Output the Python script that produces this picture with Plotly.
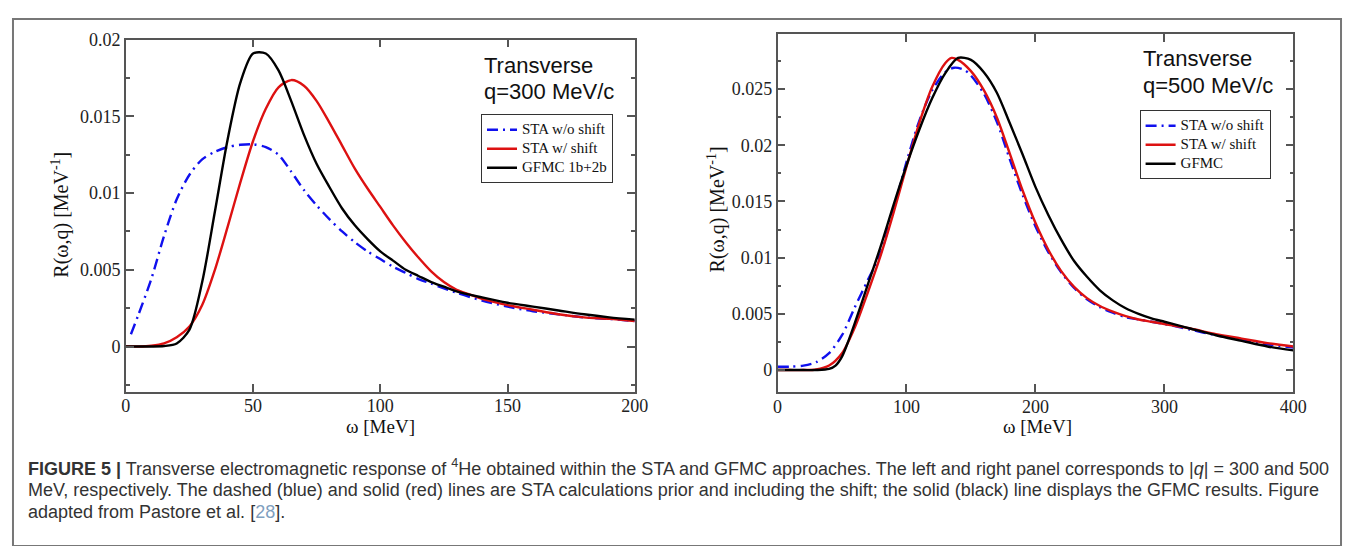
import plotly.graph_objects as go

# ---------------- data: left panel (q = 300 MeV/c) ----------------
w_left_gfmc = [0, 5, 10, 15, 20, 25, 30, 35, 40, 45, 50, 55, 60, 65, 70, 75, 80, 85, 90, 95, 100, 105, 110, 115, 120, 125, 130, 140, 150, 160, 170, 180, 190, 200]
r_left_gfmc = [0, 0, 0, 0.00003, 0.0002, 0.0011, 0.0042, 0.0088, 0.0135, 0.0172, 0.0191, 0.0191, 0.0180, 0.0160, 0.0138, 0.0119, 0.0104, 0.0090, 0.0079, 0.0070, 0.0062, 0.0056, 0.0050, 0.0046, 0.0042, 0.0039, 0.0036, 0.0032, 0.00285, 0.0026, 0.00235, 0.0021, 0.0019, 0.00175]

w_left_shift = [0, 5, 10, 15, 20, 25, 30, 35, 40, 45, 50, 55, 60, 65, 70, 75, 80, 85, 90, 95, 100, 105, 110, 115, 120, 125, 130, 135, 140, 150, 160, 170, 180, 190, 200]
r_left_shift = [0, 0, 0.00005, 0.0002, 0.0006, 0.0013, 0.0027, 0.0050, 0.0078, 0.0107, 0.0134, 0.0155, 0.0169, 0.01737, 0.0170, 0.0160, 0.0146, 0.0131, 0.0116, 0.0103, 0.0091, 0.0079, 0.0068, 0.0058, 0.0049, 0.0042, 0.0037, 0.0034, 0.0031, 0.0027, 0.0024, 0.0021, 0.0019, 0.0018, 0.00166]

w_left_noshift = [2, 5, 10, 15, 20, 25, 30, 35, 40, 45, 50, 55, 60, 65, 70, 75, 80, 85, 90, 95, 100, 105, 110, 115, 120, 130, 140, 150, 160, 170, 180, 190, 200]
r_left_noshift = [0.0008, 0.0021, 0.0044, 0.0072, 0.0096, 0.0112, 0.0122, 0.0127, 0.0130, 0.01315, 0.01318, 0.0130, 0.0125, 0.0114, 0.0102, 0.0092, 0.0083, 0.0075, 0.0068, 0.0062, 0.0057, 0.0052, 0.0048, 0.0044, 0.0041, 0.0035, 0.0030, 0.0026, 0.0023, 0.0021, 0.0019, 0.0018, 0.00166]

# ---------------- data: right panel (q = 500 MeV/c) ----------------
w_right_gfmc = [0, 10, 20, 30, 40, 45, 50, 55, 60, 70, 80, 90, 100, 110, 120, 130, 140, 150, 160, 170, 180, 190, 200, 210, 220, 230, 240, 250, 260, 270, 280, 290, 300, 310, 320, 340, 360, 380, 400]
r_right_gfmc = [0, 0, 0, 0, 0.0001, 0.0004, 0.0012, 0.0026, 0.0042, 0.0076, 0.0110, 0.0147, 0.0182, 0.0214, 0.0242, 0.0264, 0.02777, 0.0276, 0.0265, 0.0247, 0.0220, 0.0192, 0.0163, 0.0138, 0.0116, 0.0097, 0.0083, 0.0071, 0.0062, 0.0055, 0.0050, 0.0046, 0.0043, 0.0040, 0.0037, 0.0031, 0.0026, 0.0021, 0.00175]

w_right_shift = [0, 10, 20, 30, 40, 50, 60, 70, 80, 90, 100, 110, 120, 130, 135, 140, 150, 160, 170, 180, 190, 200, 210, 220, 230, 240, 250, 260, 270, 280, 290, 300, 320, 340, 360, 380, 400]
r_right_shift = [0, 0, 0, 0.00005, 0.0004, 0.0015, 0.0038, 0.0069, 0.0102, 0.0140, 0.0181, 0.0220, 0.0252, 0.0273, 0.02777, 0.0276, 0.0266, 0.0249, 0.0225, 0.0193, 0.0160, 0.0131, 0.0107, 0.0088, 0.0074, 0.0064, 0.0057, 0.0052, 0.0048, 0.0045, 0.0043, 0.0041, 0.0037, 0.0032, 0.0028, 0.0024, 0.0021]

w_right_noshift = [0, 10, 20, 30, 40, 50, 60, 70, 80, 90, 100, 110, 120, 130, 137, 145, 150, 160, 170, 180, 190, 200, 210, 220, 230, 240, 250, 260, 270, 280, 290, 300, 320, 340, 360, 380, 400]
r_right_noshift = [0.0003, 0.0003, 0.0004, 0.0007, 0.0015, 0.0031, 0.0056, 0.0080, 0.0104, 0.0143, 0.0185, 0.0222, 0.0249, 0.0265, 0.0269, 0.0267, 0.0262, 0.0246, 0.0221, 0.0188, 0.0156, 0.0128, 0.0105, 0.0087, 0.0073, 0.0063, 0.0056, 0.0051, 0.0047, 0.0045, 0.0043, 0.0041, 0.0036, 0.0031, 0.0027, 0.0023, 0.0020]

names_left = ["STA w/o shift", "STA w/ shift", "GFMC 1b+2b"]
names_right = ["STA w/o shift", "STA w/ shift", "GFMC"]
panel_label_1 = "Transverse"
panel_label_2 = ["q=300 MeV/c", "q=500 MeV/c"]

BLUE = "#1010ee"
RED = "#dd1111"
BLACK = "#000000"
SERIF = "Liberation Serif, Times New Roman, serif"
SANS = "Liberation Sans, Arial, sans-serif"

fig = go.Figure()

def add(x, y, name, color, dash, xa, ya, legend):
    fig.add_trace(go.Scatter(
        x=x, y=y, name="<span style='font-size:15px'>" + name + "</span>", mode="lines",
        line=dict(color=color, width=2.4, dash=dash, shape="spline", smoothing=0.8),
        xaxis=xa, yaxis=ya, legend=legend,
    ))

DASHDOT = "11px,5px,2px,5px"
add(w_left_noshift, r_left_noshift, names_left[0], BLUE, DASHDOT, "x", "y", "legend")
add(w_left_shift, r_left_shift, names_left[1], RED, "solid", "x", "y", "legend")
add(w_left_gfmc, r_left_gfmc, names_left[2], BLACK, "solid", "x", "y", "legend")
add(w_right_noshift, r_right_noshift, names_right[0], BLUE, DASHDOT, "x2", "y2", "legend2")
add(w_right_shift, r_right_shift, names_right[1], RED, "solid", "x2", "y2", "legend2")
add(w_right_gfmc, r_right_gfmc, names_right[2], BLACK, "solid", "x2", "y2", "legend2")

# page body has an 8px margin: figure is sized so the page is exactly the window
OFF = 8
W, H = 1363 - 2 * OFF, 554 - 2 * OFF
def px(x):
    return (x - OFF) / W
def py(y):
    return 1 - (y - OFF) / H

axis_common = dict(
    showline=True, linecolor="#555555", linewidth=1.5, mirror="allticks",
    ticks="inside", ticklen=8, tickwidth=1.5, tickcolor="#555555",
    showgrid=False, zeroline=False,
    tickfont=dict(family=SERIF, size=18, color="#222222"),
)
minor_y = dict(ticks="inside", ticklen=4, dtick=0.0025, tick0=0, tickcolor="#555555", tickwidth=1.5)
legend_common = dict(xanchor="left", yanchor="top", bordercolor="#333333", borderwidth=1, bgcolor="white",
                     font=dict(family=SERIF, size=11, color="#111111"), tracegroupgap=0, itemwidth=30)

fig.update_layout(
    width=W, height=H,
    margin=dict(l=0, r=0, t=0, b=0),
    paper_bgcolor="white", plot_bgcolor="white",
    xaxis=dict(axis_common, domain=[px(123.3), px(638.7)], range=[0, 200], dtick=50, anchor="y",
               ticklabelstandoff=-3),
    yaxis=dict(axis_common, domain=[py(389), py(30)], range=[-0.00296, 0.02001], dtick=0.005, tick0=0,
               minor=minor_y, anchor="x"),
    xaxis2=dict(axis_common, domain=[px(783.3), px(1305.7)], range=[0, 400], dtick=100, anchor="y2",
                ticklabelstandoff=-3),
    yaxis2=dict(axis_common, domain=[py(389.3), py(24.3)], range=[-0.00197, 0.0299], dtick=0.005, tick0=0,
                minor=minor_y, anchor="x2"),
    legend=dict(legend_common, x=px(483), y=py(106)),
    legend2=dict(legend_common, x=px(1150), y=py(102)),
    showlegend=True,
)

annotations = []
for xl, y1, y2, lab in [(484, 56, 83, panel_label_2[0]), (1151, 49, 77, panel_label_2[1])]:
    for yy, txt in [(y1, panel_label_1), (y2, lab)]:
        annotations.append(dict(x=px(xl), y=py(yy), xref="paper", yref="paper", xanchor="left", yanchor="middle",
                                text=txt, showarrow=False, align="left",
                                font=dict(family=SANS, size=22, color="#111111")))
# axis titles
for xc, yc in [(381, 424), (1047, 424)]:
    annotations.append(dict(x=px(xc), y=py(yc), xref="paper", yref="paper", xanchor="center", yanchor="middle",
                            text="ω [MeV]", showarrow=False,
                            font=dict(family=SERIF, size=19, color="#111111")))
for xc, yc in [(57, 208), (721, 203)]:
    annotations.append(dict(x=px(xc), y=py(yc), xref="paper", yref="paper", xanchor="center", yanchor="middle",
                            text="R(ω,q) [MeV<sup>-1</sup>]", showarrow=False, textangle=-90,
                            font=dict(family=SERIF, size=20, color="#111111")))
# caption
caption_lines = [
    "<b>FIGURE 5 |</b> Transverse electromagnetic response of <sup>4</sup>He obtained within the STA and GFMC approaches. The left and right panel corresponds to |<i>q</i>| = 300 and 500",
    "MeV, respectively. The dashed (blue) and solid (red) lines are STA calculations prior and including the shift; the solid (black) line displays the GFMC results. Figure",
    "adapted from Pastore et al. [<span style='color:#7f9fc0'>28</span>].",
]
for i, line in enumerate(caption_lines):
    annotations.append(dict(x=px(22), y=py(466 + 22.5 * i), xref="paper", yref="paper", xanchor="left", yanchor="middle",
                            text=line, showarrow=False, align="left",
                            font=dict(family=SANS, size=18, color="#333333")))
fig.update_layout(annotations=annotations)

# outer frame
fig.add_shape(type="rect", xref="paper", yref="paper", x0=px(9), y0=py(546), x1=px(1354), y1=py(9),
              line=dict(color="#777777", width=2))

fig.write_html("out.html")
